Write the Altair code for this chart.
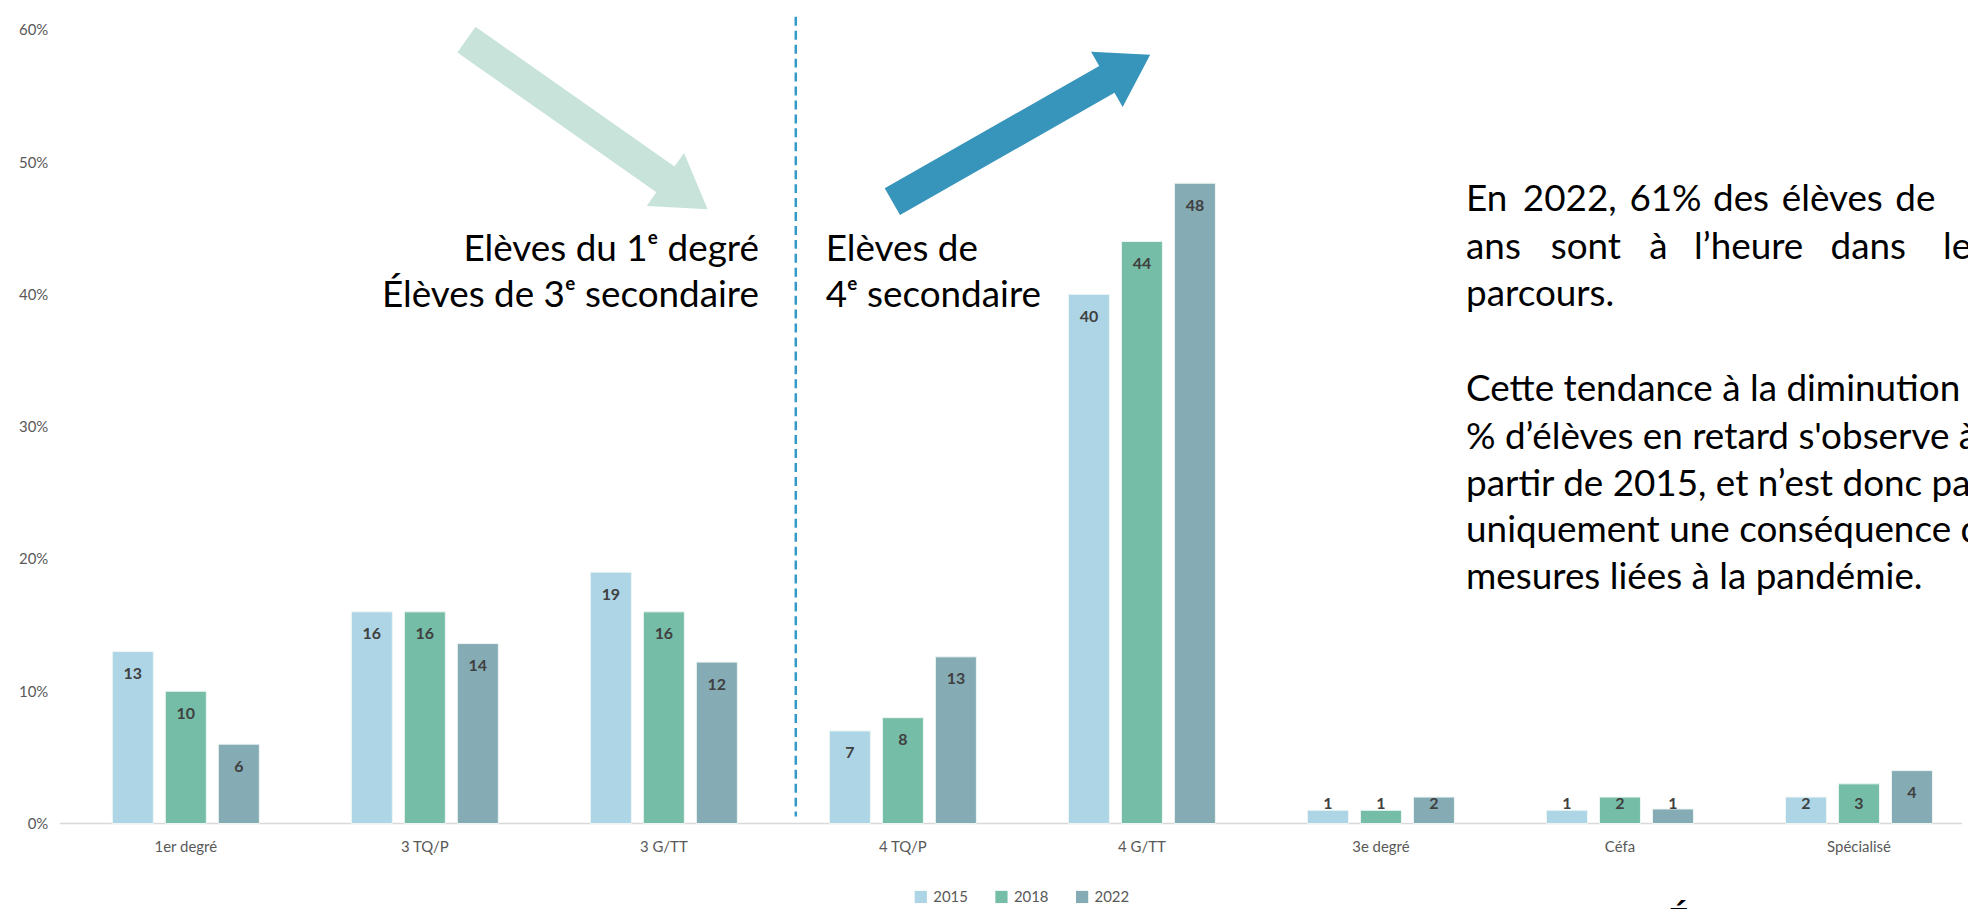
import altair as alt
import pandas as pd

categories = ["1er degré", "3 TQ/P", "3 G/TT", "4 TQ/P", "4 G/TT", "3e degré", "Céfa", "Spécialisé"]
years = ["2015", "2018", "2022"]
values_2015 = [13, 16, 19, 7, 40, 1, 1, 2]
values_2018 = [10, 16, 16, 8, 44, 1, 2, 3]
values_2022 = [6, 13.6, 12.2, 12.6, 48.4, 2, 1.1, 4]
colors = ["#ADD5E6", "#75BDA7", "#85ABB5"]
y_ticks = [0, 10, 20, 30, 40, 50, 60]

# annotation texts (text, x, y) in plot pixels
left_texts_r = [
    ("Elèves du 1ᵉ degré", 702, 221),
    ("Élèves de 3ᵉ secondaire", 702, 267),
]
left_texts_l = [
    ("Elèves de", 769, 221),
    ("4ᵉ secondaire", 769, 267),
]
TX0 = 1412
LINE_Y = [171, 219, 266, 314, 362, 410, 457, 503, 551]
line1_words = ["En", "2022,", "61%", "des", "élèves", "de"]
line1_x = [1412, 1469, 1576, 1660, 1729, 1843]
line2_words = ["ans", "sont", "à", "l’heure", "dans", "leur"]
line2_x = [1412, 1497, 1596, 1641, 1778, 1891]
para_lines = [
    "parcours.",
    "",
    "Cette tendance à la diminution du",
    "% d’élèves en retard s'observe à",
    "partir de 2015, et n’est donc pas",
    "uniquement une conséquence des",
    "mesures liées à la pandémie.",
]
footer_text = [("É", 1614, 879)]

rows = []
for yr, vals in zip(years, [values_2015, values_2018, values_2022]):
    for c, v in zip(categories, vals):
        rows.append({"cat": c, "year": yr, "v": v})
df = pd.DataFrame(rows)

W, H = 1910, 797
FONT = "Lato"
BIG = 37

ann_r = pd.DataFrame([{"t": t, "x": x, "y": y} for t, x, y in left_texts_r])
ann_l_rows = [{"t": t, "x": x, "y": y} for t, x, y in left_texts_l]
for w, x in zip(line1_words, line1_x):
    ann_l_rows.append({"t": w, "x": x, "y": LINE_Y[0]})
for w, x in zip(line2_words, line2_x):
    ann_l_rows.append({"t": w, "x": x, "y": LINE_Y[1]})
for i, ln in enumerate(para_lines):
    if ln:
        ann_l_rows.append({"t": ln, "x": TX0, "y": LINE_Y[2 + i]})
ann_l = pd.DataFrame(ann_l_rows)
foot = pd.DataFrame([{"t": t, "x": x, "y": y} for t, x, y in footer_text])

one = pd.DataFrame({"k": [0]})

ysc = alt.Scale(domain=[0, 60], nice=False)
y_axis = alt.Axis(title=None, values=y_ticks, labelExpr="datum.value + '%'", domain=False,
                  ticks=False, grid=False, labelPadding=12, labelFontSize=15,
                  labelColor="#595959", labelFont=FONT)
x_enc = alt.X(
    "cat:N", sort=categories,
    scale=alt.Scale(paddingInner=0.385, paddingOuter=0.1717, align=0.64),
    axis=alt.Axis(title=None, labelAngle=0, domain=False, ticks=False, labelPadding=16,
                  labelFontSize=15, labelColor="#595959", labelFont=FONT),
)
xo_enc = alt.XOffset("year:N", sort=years, scale=alt.Scale(paddingInner=0.226, paddingOuter=0))

bars = alt.Chart(df).mark_bar(stroke="#eef6f3", strokeWidth=1).encode(
    x=x_enc,
    xOffset=xo_enc,
    y=alt.Y("v:Q", scale=ysc, axis=y_axis),
    color=alt.Color("year:N", sort=years, scale=alt.Scale(domain=years, range=colors),
                    legend=alt.Legend(title=None, orient="none", legendX=857, legendY=863,
                                      direction="horizontal", symbolType="square", symbolSize=150,
                                      symbolStrokeWidth=0, labelFontSize=15, labelColor="#595959",
                                      labelFont=FONT, columnPadding=26, labelOffset=5)),
)

labels = alt.Chart(df).transform_calculate(
    ly="max(datum.v - 1.7, 1.5)", lt="format(datum.v, '.0f')"
).mark_text(fontWeight="bold", fontSize=16, color="#404040", font=FONT, baseline="middle").encode(
    x=x_enc, xOffset=xo_enc, y=alt.Y("ly:Q", scale=ysc, axis=y_axis), text="lt:N"
)

baseline = alt.Chart(one).mark_rule(color="#d9d9d9", strokeWidth=1.5).encode(
    y=alt.Y("k:Q", scale=ysc, axis=y_axis)
)

divider = alt.Chart(one).mark_rule(color="#3399c8", strokeWidth=2.5, strokeDash=[9, 5]).encode(
    x=alt.value(739), y=alt.value(-13), y2=alt.value(790)
)

arrow_light_path = "M-1,-0.107 L0.65,-0.107 L0.65,-0.22 L1,0 L0.65,0.22 L0.65,0.107 L-1,0.107 Z"
arrow_dark_path = "M-1,-0.104 L0.664,-0.104 L0.664,-0.215 L1,0 L0.664,0.215 L0.664,0.104 L-1,0.104 Z"

arrow_light = alt.Chart(one).mark_point(
    shape=arrow_light_path, filled=True, size=296 ** 2, angle=35.1, color="#c8e4da", opacity=1, strokeWidth=0
).encode(x=alt.value(529.4), y=alt.value(95))

arrow_dark = alt.Chart(one).mark_point(
    shape=arrow_dark_path, filled=True, size=298 ** 2, angle=330.3, color="#3794ba", opacity=1, strokeWidth=0
).encode(x=alt.value(965.4), y=alt.value(98.8))

texts_r = alt.Chart(ann_r).mark_text(fontSize=BIG, font=FONT, color="#000000", baseline="middle", align="right").encode(
    x=alt.X("x:Q", scale=None), y=alt.Y("y:Q", scale=None), text="t:N"
)
texts_l = alt.Chart(ann_l).mark_text(fontSize=BIG, font=FONT, color="#000000", baseline="middle", align="left").encode(
    x=alt.X("x:Q", scale=None), y=alt.Y("y:Q", scale=None), text="t:N"
)
texts_foot = alt.Chart(foot).mark_text(fontSize=BIG, font=FONT, color="#000000", baseline="top", align="left").encode(
    x=alt.X("x:Q", scale=None), y=alt.Y("y:Q", scale=None), text="t:N"
)

chart = alt.layer(baseline, bars, labels, divider, arrow_light, arrow_dark, texts_r, texts_l, texts_foot).properties(
    width=W, height=H,
    autosize=alt.AutoSizeParams(type="none"),
    padding={"left": 52, "top": 20, "right": 6, "bottom": 90},
    background="white",
).configure_view(stroke=None)

chart.save("out.html", embed_options={"renderer": "svg", "actions": False})
